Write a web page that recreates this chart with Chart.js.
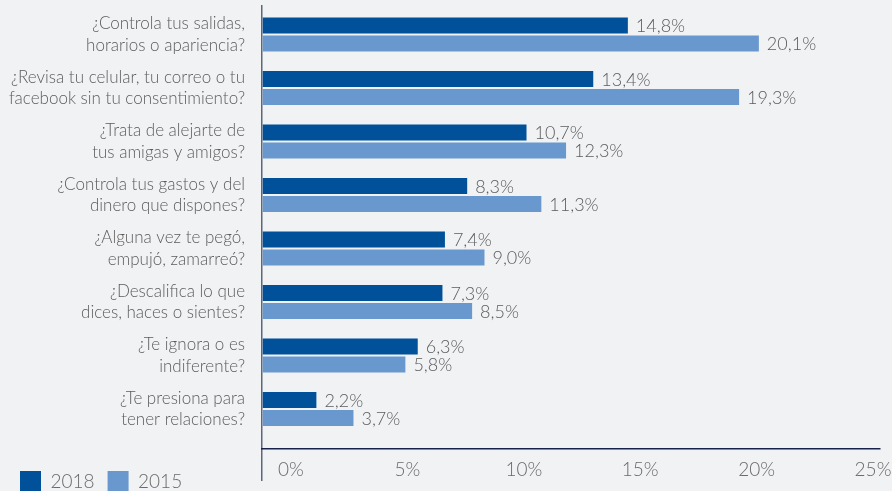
<!DOCTYPE html>
<html lang="es">
<head>
<meta charset="utf-8">
<script src="https://cdn.jsdelivr.net/npm/chart.js@4"></script>
<style>
  html, body { margin:0; padding:0; background:#f1f2f4; overflow:hidden; }
  #wrap { position:relative; width:892px; height:503px; }
</style>
</head>
<body>
<div id="wrap"><canvas id="chart"></canvas></div>
<script>
// preguntas (dos líneas cada una) y porcentajes por año
const questions = [
  ['¿Controla tus salidas,', 'horarios o apariencia?'],
  ['¿Revisa tu celular, tu correo o tu', 'facebook sin tu consentimiento?'],
  ['¿Trata de alejarte de', 'tus amigas y amigos?'],
  ['¿Controla tus gastos y del', 'dinero que dispones?'],
  ['¿Alguna vez te pegó,', 'empujó, zamarreó?'],
  ['¿Descalifica lo que', 'dices, haces o sientes?'],
  ['¿Te ignora o es', 'indiferente?'],
  ['¿Te presiona para', 'tener relaciones?']
];
const years = ['2018', '2015'];
const v2018 = [14.8, 13.4, 10.7, 8.3, 7.4, 7.3, 6.3, 2.2];
const v2015 = [20.1, 19.3, 12.3, 11.3, 9.0, 8.5, 5.8, 3.7];
const xTicks = [0, 5, 10, 15, 20, 25];

const DARK = '#01519a', LIGHT = '#6898ce', TEXT = '#5c5c5c';
const FONT = 'Lato, "Open Sans", sans-serif';

Chart.defaults.font.family = FONT;
Chart.defaults.font.weight = '300';
Chart.defaults.color = TEXT;

const pct = v => v.toFixed(1).replace('.', ',') + '%';

// etiqueta con el valor a la derecha de cada barra
const valueLabels = {
  id: 'valueLabels',
  afterDatasetsDraw(chart) {
    const ctx = chart.ctx;
    ctx.save();
    ctx.font = '300 18px ' + FONT;
    ctx.fillStyle = TEXT;
    ctx.textBaseline = 'middle';
    chart.data.datasets.forEach((ds, di) => {
      chart.getDatasetMeta(di).data.forEach((bar, i) => {
        ctx.fillText(pct(ds.data[i].x), bar.x + 8, bar.y + 1);
      });
    });
    ctx.restore();
  }
};

const toPoints = arr => arr.map((v, i) => ({x: v, y: i}));

new Chart(document.getElementById('chart'), {
  type: 'bar',
  data: {
    datasets: [
      {label: years[0], data: toPoints(v2018), backgroundColor: DARK},
      {label: years[1], data: toPoints(v2015), backgroundColor: LIGHT}
    ]
  },
  options: {
    indexAxis: 'y',
    responsive: true,
    maintainAspectRatio: false,
    animation: false,
    layout: {padding: {top: 6, left: 7, right: 12, bottom: 0}},
    datasets: {bar: {categoryPercentage: 0.673, barPercentage: 0.889}},
    scales: {
      // eje de preguntas: lineal para fijar el espacio libre arriba y abajo
      y: {
        type: 'linear',
        offset: false,
        reverse: true,
        min: -0.533,
        max: 7.747,
        afterBuildTicks: s => { s.ticks = questions.map((q, i) => ({value: i})); },
        afterFit: s => { s.width = 255; s.paddingTop = 0; s.paddingBottom = 0; },
        ticks: {
          callback: v => questions[v],
          padding: 9,
          font: {size: 17, lineHeight: 1.25},
          color: TEXT
        },
        grid: {display: false},
        border: {color: '#5d6778', width: 1.5}
      },
      // eje de valores: línea base y prolongación del eje vertical
      x: {
        type: 'linear',
        position: 'bottom',
        min: 0,
        max: 25,
        ticks: {display: false, stepSize: 5},
        grid: {
          drawOnChartArea: false,
          tickLength: 32,
          lineWidth: 1.5,
          color: c => (c.tick && c.tick.value === 0 ? '#5d6778' : 'transparent')
        },
        border: {color: '#16224a', width: 1.5},
        afterFit: s => { s.height = 0; s.paddingLeft = 0; s.paddingRight = 0; }
      },
      // rótulos de porcentaje bajo la línea base
      x2: {
        type: 'linear',
        position: 'bottom',
        weight: 1,
        min: -1.2457,
        max: 25.3,
        afterBuildTicks: s => { s.ticks = xTicks.map(v => ({value: v})); },
        afterFit: s => { s.height = 9; s.paddingLeft = 0; s.paddingRight = 0; },
        ticks: {
          callback: v => v + '%',
          mirror: true,
          padding: -32,
          autoSkip: false,
          font: {size: 19},
          color: '#6a6a6a'
        },
        grid: {display: false, drawTicks: false},
        border: {display: false}
      }
    },
    plugins: {
      legend: {
        position: 'bottom',
        align: 'start',
        labels: {
          boxWidth: 21,
          boxHeight: 22,
          padding: 13,
          color: '#6a6a6a',
          font: {size: 19}
        }
      },
      tooltip: {enabled: false}
    }
  },
  plugins: [valueLabels]
});
</script>
</body>
</html>
